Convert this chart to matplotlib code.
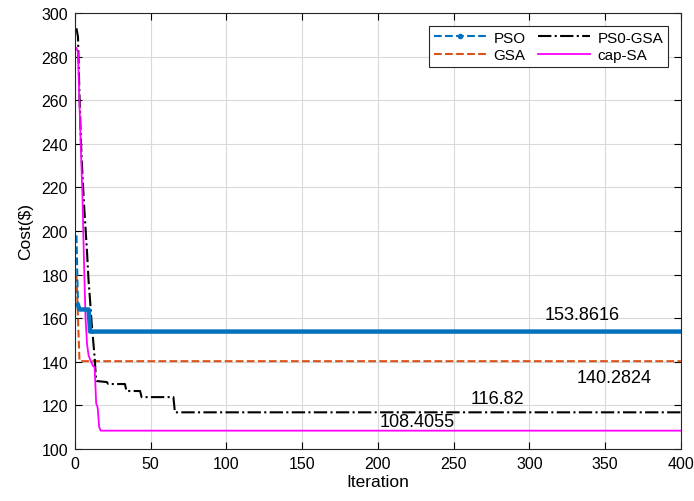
import numpy as np
import matplotlib
matplotlib.use('Agg')
import matplotlib.pyplot as plt
from matplotlib.lines import Line2D

plt.rcParams['font.family'] = ['Liberation Sans', 'DejaVu Sans']

# Breakpoints (iteration, cost)
pso_x = [1, 2, 3, 9, 10, 400]
pso_y = [198, 166, 164, 164, 153.8616, 153.8616]

gsa_x = [1, 2, 3, 400]
gsa_y = [180, 160, 140.2824, 140.2824]

psogsa_x = [1, 2, 3, 4, 5, 6, 7, 8, 9, 10, 11, 12, 13, 14, 21, 22, 33, 34, 43, 44, 65, 66, 400]
psogsa_y = [293, 289, 262, 240, 225, 212, 201, 190, 177, 168, 158, 150, 142, 131.2, 130.7,
            129.8, 129.8, 126.6, 126.6, 123.8, 123.8, 116.82, 116.82]

capsa_x = [1, 2, 3, 4, 5, 6, 7, 8, 9, 10, 12, 13, 14, 15, 16, 17, 400]
capsa_y = [284, 282, 258, 236, 215, 185, 160, 148, 143, 141, 138, 137.5, 121, 119, 110, 108.4055, 108.4055]

# labels of final values
final_labels = ['153.8616', '140.2824', '116.82', '108.4055']
label_x = [335, 356, 279, 226]
label_y = [161.5, 133, 123, 112.4]

fig = plt.figure(figsize=(6.94, 5.02), dpi=100)
ax = fig.add_axes([0.108, 0.1036, 0.873, 0.8685])

c_pso = '#0072BD'
c_gsa = '#D95319'

ax.plot(gsa_x, gsa_y, color=c_gsa, ls='--', lw=1.5)
ax.plot(psogsa_x, psogsa_y, color='black', ls='-.', lw=1.5)
ax.plot(capsa_x, capsa_y, color='#FF00FF', ls='-', lw=1.3)
# PSO: thin dashed drop, dense markers make the flat parts look thick
ax.plot(pso_x[:2], pso_y[:2], color=c_pso, ls='--', lw=1.5)
ax.plot(pso_x[1:], pso_y[1:], color=c_pso, ls='-', lw=3.2)

for t, x, y in zip(final_labels, label_x, label_y):
    ax.text(x, y, t, fontsize=13, ha='center', va='center')

ax.set_xlim(0, 400)
ax.set_ylim(100, 300)
ax.set_xticks(np.arange(0, 401, 50))
ax.set_yticks(np.arange(100, 301, 20))
ax.tick_params(direction='in', top=True, right=True, labelsize=11.5, length=5, width=0.8, pad=5)
ax.grid(True, color='#d9d9d9', lw=0.8)
for s in ax.spines.values():
    s.set_color('#262626')
    s.set_linewidth(0.8)

ax.set_xlabel('Iteration', fontsize=12.5, labelpad=2)
ax.set_ylabel('Cost(\\$)', fontsize=12.5, labelpad=6)

handles = [
    Line2D([], [], color=c_pso, ls='--', marker='.', markersize=6, lw=1.5),
    Line2D([], [], color=c_gsa, ls='--', lw=1.5),
    Line2D([], [], color='black', ls='-.', lw=1.5),
    Line2D([], [], color='#FF00FF', ls='-', lw=1.3),
]
names = ['PSO', 'GSA', 'PS0-GSA', 'cap-SA']
leg = ax.legend(handles, names, ncol=2, loc='upper right', bbox_to_anchor=(0.9785, 0.97),
                borderaxespad=0, fontsize=11, fancybox=False, edgecolor='#262626', framealpha=1,
                handlelength=3.4, columnspacing=0.8, handletextpad=0.5,
                labelspacing=0.25, borderpad=0.3)
leg.get_frame().set_linewidth(0.8)

fig.savefig('out.png', dpi=100)
